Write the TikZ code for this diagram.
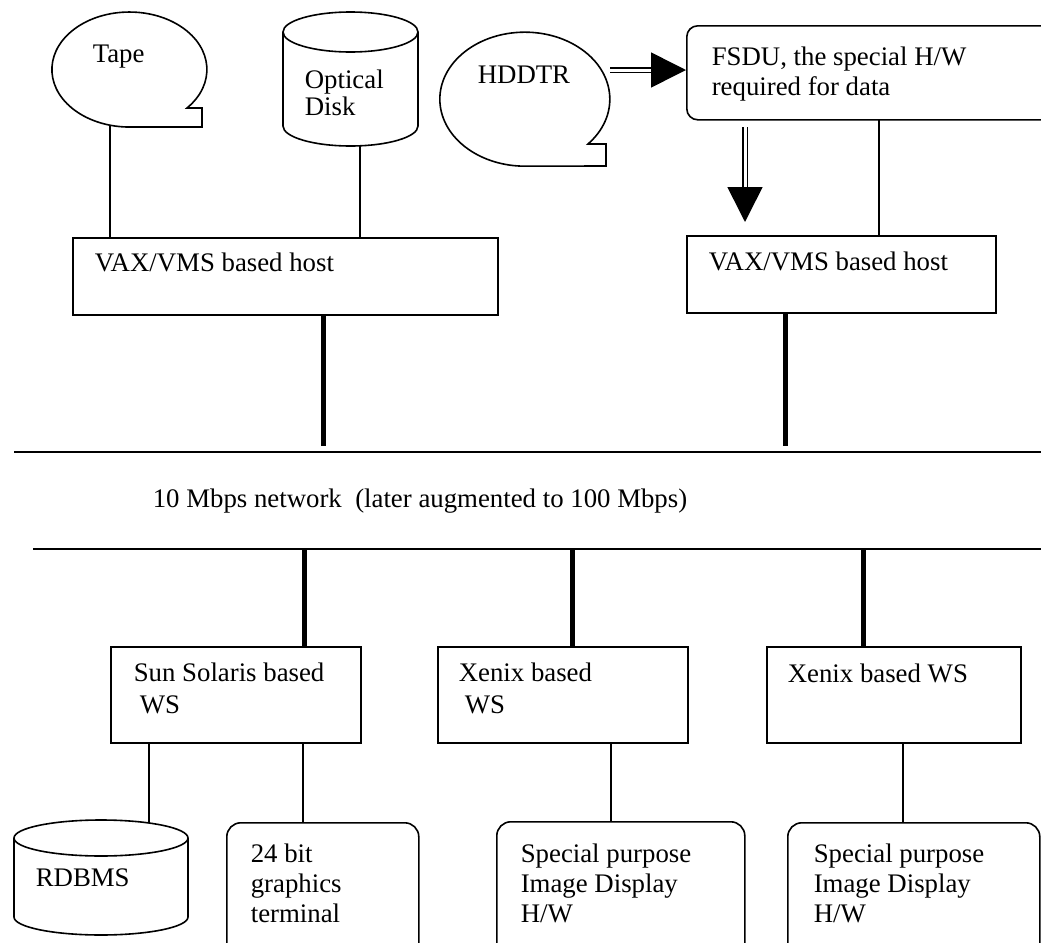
\documentclass[tikz,border=0pt]{standalone}
\usepackage{fontspec}
\setmainfont{Liberation Serif}
\usetikzlibrary{arrows.meta, positioning}

\begin{document}
\begin{tikzpicture}[x=0.5pt,y=0.5pt,line width=0.8pt,line join=miter]

			\tikzstyle{box}=[draw,rectangle,inner sep=0pt,anchor=north west]
			\tikzstyle{rbox}=[box,rounded corners=7pt]
			\tikzstyle{txt}=[inner sep=0pt,anchor=base west,align=left,font=\fontsize{13.4}{15}\selectfont]
			\tikzstyle{bus}=[line width=2.5pt]
			\tikzstyle{feed}=[double,double distance=1.5pt,-{Triangle[length=17.5pt,width=17.5pt]}]

			\useasboundingbox (0,0) rectangle (1041,-943);
			\clip (0,0) rectangle (1041,-943);

			% storage on the first host
			\draw (187,-108) arc[start angle=-42, end angle=270, x radius=77.5, y radius=57.5] -- (202,-127) -- (202,-108) -- cycle;
			\coordinate (tape-s) at (110,-126);
			\node[txt] (tape) at (92,-62) {Tape};

			\draw (350.5,-32) ellipse [x radius=67.5, y radius=20];
			\draw (283,-32) -- (283,-126) arc[start angle=180, end angle=360, x radius=67.5, y radius=20] -- (418,-32);
			\coordinate (disk-s) at (360,-146);
			\node[txt,font=\fontsize{13.4}{11}\selectfont] (disk) at (304,-115) {Optical\\Disk};

			% recorder and FSDU
			\draw (588,-144) arc[start angle=-42, end angle=270, x radius=85, y radius=67] -- (606,-166) -- (606,-144) -- cycle;
			\coordinate (hddtr-e) at (610,-70);
			\node[txt] (hddtr) at (477,-83) {HDDTR};

			\node[rbox,rounded corners=5.5pt,minimum width=187pt,minimum height=47pt] (fsdu) at (686,-25) {};
			\node[txt] (fsdutxt) at (711,-95) {FSDU, the special H/W\\required for data};

			% hosts
			\node[box,minimum width=212.5pt,minimum height=38.5pt] (vax1) at (72,-237) {};
			\node[txt] (vax1txt) at (94,-271) {VAX/VMS based host};
			\node[box,minimum width=154.5pt,minimum height=38.5pt] (vax2) at (686,-235) {};
			\node[txt] (vax2txt) at (708,-270) {VAX/VMS based host};

			\draw (tape-s) -- (tape-s |- vax1.north);
			\draw (disk-s) -- (disk-s |- vax1.north);
			\draw[feed] (hddtr-e) -- (hddtr-e -| fsdu.west);
			\coordinate (fsdu-o) at (745,-127);
			\coordinate (vax2-i) at (745,-222);
			\draw[feed] (fsdu-o) -- (vax2-i);
			\coordinate (fsdu-h) at (879,-120);
			\draw (fsdu-h) -- (fsdu-h |- vax2.north);

			% network
			\coordinate (lan1w) at (14,-452);
			\coordinate (lan1e) at (1041,-452);
			\coordinate (lan2w) at (33,-549);
			\coordinate (lan2e) at (1041,-549);
			\draw (lan1w) -- (lan1e);
			\draw (lan2w) -- (lan2e);
			\node[txt] (lan) at (152,-507) {10 Mbps network\ \ (later augmented to 100 Mbps)};

			\draw[bus,shorten >=3pt] ([xshift=125.5pt]vax1.south west) coordinate (up1) -- (up1 |- lan1w);
			\draw[bus,shorten >=3pt] ([xshift=49.5pt]vax2.south west) coordinate (up2) -- (up2 |- lan1w);

			% workstations
			\node[box,minimum width=125pt,minimum height=48pt] (sun) at (110,-646) {};
			\node[txt,font=\fontsize{13.4}{16}\selectfont] (suntxt) at (133,-713) {Sun Solaris based\\\hspace*{3pt}WS};
			\node[box,minimum width=125pt,minimum height=48pt] (xen1) at (437,-646) {};
			\node[txt,font=\fontsize{13.4}{16}\selectfont] (xen1txt) at (458,-713) {Xenix based\\\hspace*{3pt}WS};
			\node[box,minimum width=127pt,minimum height=48pt] (xen2) at (766,-646) {};
			\node[txt] (xen2txt) at (787,-682) {Xenix based WS};

			\draw[bus] ([xshift=97pt]sun.north west) coordinate (dn1) -- (dn1 |- lan2w);
			\draw[bus] ([xshift=67.5pt]xen1.north west) coordinate (dn2) -- (dn2 |- lan2w);
			\draw[bus] ([xshift=48.5pt]xen2.north west) coordinate (dn3) -- (dn3 |- lan2w);

			% peripherals
			\draw (101,-838) ellipse [x radius=87, y radius=18];
			\draw (14,-838) -- (14,-917) arc[start angle=180, end angle=360, x radius=87, y radius=18] -- (188,-838);
			\coordinate (rdb-n) at (149,-823);
			\node[txt] (rdb) at (35,-886) {RDBMS};

			\node[rbox,minimum width=96pt,minimum height=70pt] (gfx) at (226,-822) {};
			\node[txt] (gfxtxt) at (250,-922) {24 bit\\graphics\\terminal};
			\node[rbox,minimum width=124pt,minimum height=70pt] (img1) at (496,-821) {};
			\node[txt] (img1txt) at (520,-922) {Special purpose\\Image Display\\H/W};
			\node[rbox,minimum width=126pt,minimum height=70pt] (img2) at (787,-822) {};
			\node[txt] (img2txt) at (813,-922) {Special purpose\\Image Display\\H/W};

			\draw (sun.south -| rdb-n) -- (rdb-n);
			\draw ([xshift=96.5pt]sun.south west) coordinate (g1) -- (g1 |- gfx.north);
			\draw ([xshift=87pt]xen1.south west) coordinate (i1) -- (i1 |- img1.north);
			\draw ([xshift=68.5pt]xen2.south west) coordinate (i2) -- (i2 |- img2.north);

		\end{tikzpicture}
\end{document}
